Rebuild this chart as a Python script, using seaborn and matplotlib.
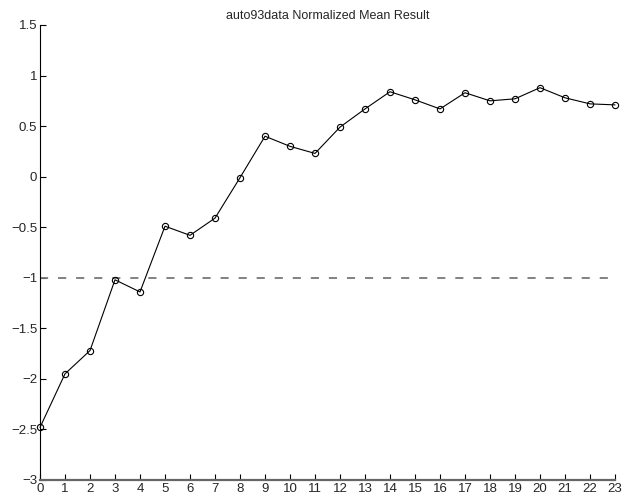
import numpy as np
import pandas as pd
import matplotlib
matplotlib.use("Agg")
import matplotlib.pyplot as plt
import seaborn as sns

# values
iterations = list(range(24))
mean_result = [-2.48, -1.95, -1.72, -1.02, -1.14, -0.49, -0.58, -0.41,
               -0.01, 0.40, 0.30, 0.23, 0.49, 0.67, 0.84, 0.76,
               0.67, 0.83, 0.75, 0.77, 0.88, 0.78, 0.72, 0.71]
threshold = -1.0
x_ticks = list(range(24))
y_ticks = [-3, -2.5, -2, -1.5, -1, -0.5, 0, 0.5, 1, 1.5]
y_labels = ["\u22123", "\u22122.5", "\u22122", "\u22121.5", "\u22121", "\u22120.5", "0", "0.5", "1", "1.5"]

sns.set_style("white")
plt.rcParams['font.family'] = ['Liberation Sans', 'DejaVu Sans']

df = pd.DataFrame({"iteration": iterations, "result": mean_result})

fig = plt.figure(figsize=(6.34, 5.0), dpi=100)
ax = fig.add_axes([40 / 634, 20 / 500, 575 / 634, 455 / 500])

ax.axhline(threshold, color="#777777", linestyle=(0, (4.5, 5.5)), lw=1.3, zorder=1)
sns.lineplot(data=df, x="iteration", y="result", ax=ax, color="black", lw=0.8,
             marker="o", markersize=4.5, mfc="none", mec="black", mew=0.8,
             zorder=3, clip_on=False)

ax.set_xlim(0, 23)
ax.set_ylim(-3, 1.5)
ax.set_xticks(x_ticks)
ax.set_xticklabels([str(t) for t in x_ticks], fontsize=9.5)
ax.set_yticks(y_ticks)
ax.set_yticklabels(y_labels, fontsize=9.5)
ax.set_xlabel("")
ax.set_ylabel("")
ax.set_title("auto93data Normalized Mean Result", fontsize=9, pad=4)

for s in ["top", "right"]:
    ax.spines[s].set_visible(False)
ax.spines["left"].set_color("black")
ax.spines["left"].set_linewidth(0.8)
ax.spines["bottom"].set_color("#666666")
ax.spines["bottom"].set_linewidth(1.6)
ax.tick_params(axis="both", direction="in", length=4, width=0.8, color="black",
               pad=2, bottom=True, left=True)

fig.savefig("out.png", dpi=100)
